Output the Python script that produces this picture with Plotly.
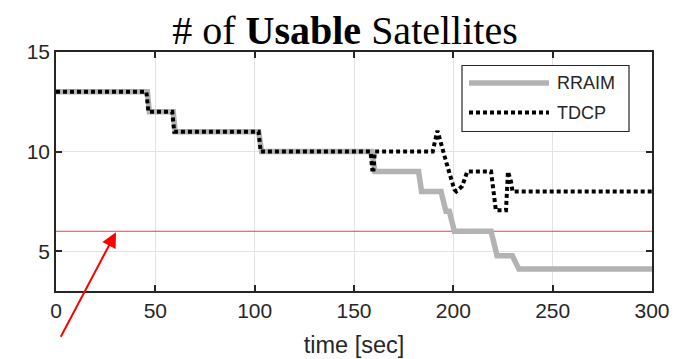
import plotly.graph_objects as go

# ---------------- data ----------------
rraim_t = [0, 46, 47, 59, 60, 102, 103.5, 159, 160.5, 182.5, 184, 193.8, 196.3, 198, 200.5,
           219, 222, 229.7, 233, 300]
rraim_v = [13, 13, 12, 12, 11, 11, 10, 10, 9, 9, 8, 8, 7, 7, 6,
           6, 4.77, 4.77, 4.1, 4.1]

tdcp_t = [0, 45.5, 46.5, 58.5, 59.5, 102, 103, 158.3, 159.2, 159.8, 160.5, 189.6, 192,
          193.8, 197, 200.5, 201.5, 204.5, 205.5, 207, 219, 220.3, 221.4, 226.5,
          226.9, 227.5, 229, 229.8, 300]
tdcp_v = [13, 13, 12, 12, 11, 11, 10, 10, 9.1, 9.1, 10, 10, 11.05,
          10.35, 9.27, 8.1, 8.0, 8.27, 8.6, 9.0, 9.0, 7.95, 7.05, 7.05,
          8.1, 9.0, 8.5, 8.0, 8.0]

threshold_t = [0, 300]
threshold_v = [6, 6]

x_ticks = [0, 50, 100, 150, 200, 250, 300]
y_ticks = [5, 10, 15]
series_names = ["RRAIM", "TDCP"]

# ---------------- layout geometry (window pixels) ----------------
WIN_W, WIN_H = 692, 359
OFF = 8                      # default page body margin
W, H = WIN_W - OFF, WIN_H - OFF
L, R, T, B = 56, 652, 52, 291   # plot area in window pixels


def px(xp):
    return (xp - L) / (R - L)


def py(yp):
    return (B - yp) / (B - T)


GRAY = "#b3b3b3"
AXC = "#262626"
FONT = "Liberation Sans, Arial, sans-serif"

fig = go.Figure()
fig.add_trace(go.Scatter(x=threshold_t, y=threshold_v, mode="lines",
                         line=dict(color="rgba(255,20,20,0.85)", width=1),
                         showlegend=False, hoverinfo="skip"))
fig.add_trace(go.Scatter(x=rraim_t, y=rraim_v, mode="lines", name=series_names[0],
                         line=dict(color=GRAY, width=5.5), showlegend=False))
fig.add_trace(go.Scatter(x=tdcp_t, y=tdcp_v, mode="lines", name=series_names[1],
                         line=dict(color="black", width=4, dash="4px,3px"),
                         showlegend=False))

# custom legend (box, samples, labels)
shapes = [
    dict(type="rect", xref="paper", yref="paper", x0=px(462), x1=px(629), y0=py(131.5), y1=py(65.5),
         line=dict(color=AXC, width=1.2), fillcolor="white", layer="above"),
    dict(type="line", xref="paper", yref="paper", x0=px(469), x1=px(549), y0=py(83), y1=py(83),
         line=dict(color=GRAY, width=5.5), layer="above"),
    dict(type="line", xref="paper", yref="paper", x0=px(469), x1=px(549), y0=py(112.5), y1=py(112.5),
         line=dict(color="black", width=4, dash="4px,3px"), layer="above"),
]
annotations = [
    dict(xref="paper", yref="paper", x=px(555), y=py(83), text=series_names[0], showarrow=False,
         xanchor="left", yanchor="middle", font=dict(family=FONT, size=18, color=AXC)),
    dict(xref="paper", yref="paper", x=px(555), y=py(112.5), text=series_names[1], showarrow=False,
         xanchor="left", yanchor="middle", font=dict(family=FONT, size=18, color=AXC)),
    # red arrow pointing at the threshold line
    dict(xref="x", yref="y", x=30.2, y=5.95, ax=-56, ay=106, showarrow=True,
         arrowhead=2, arrowsize=1.5, arrowwidth=2, arrowcolor="#ff0000", text=""),
]

fig.update_layout(
    width=W, height=H,
    margin=dict(l=L - OFF, r=WIN_W - R, t=T - OFF, b=WIN_H - B, pad=0, autoexpand=False),
    paper_bgcolor="white", plot_bgcolor="white",
    title=dict(text="# of <b>Usable</b> Satellites", x=(345 - OFF) / W, xanchor="center",
               y=1 - (30 - OFF) / H, yanchor="middle", yref="container",
               font=dict(family="Liberation Serif, Times New Roman, serif", size=40, color="black")),
    shapes=shapes, annotations=annotations,
    font=dict(family=FONT, color=AXC),
)
fig.update_xaxes(range=[0, 300], tickvals=x_ticks, ticks="inside", ticklen=6, tickwidth=1.5,
                 tickcolor=AXC, showline=True, linecolor=AXC, linewidth=1.5, mirror="allticks",
                 showgrid=True, gridcolor="#e3e3e3", gridwidth=1, zeroline=False, automargin=False,
                 tickfont=dict(family=FONT, size=21, color=AXC),
                 title=dict(text="time [sec]", font=dict(family=FONT, size=23.5, color=AXC), standoff=16))
fig.update_yaxes(range=[3, 15], tickvals=y_ticks, ticks="inside", ticklen=6, tickwidth=1.5,
                 tickcolor=AXC, showline=True, linecolor=AXC, linewidth=1.5, mirror="allticks",
                 showgrid=True, gridcolor="#e3e3e3", gridwidth=1, zeroline=False, automargin=False,
                 tickfont=dict(family=FONT, size=21, color=AXC))

fig.write_html("out.html")
